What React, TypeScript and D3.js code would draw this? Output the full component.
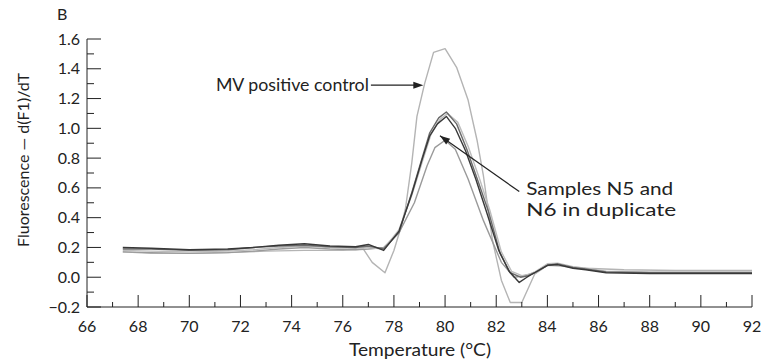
import React from 'react';
import * as d3 from 'd3';

// melting curve derivative
const controlT = [67.4, 68.5, 70, 71.5, 73, 74.5, 76, 76.8, 77.15, 77.65, 78.0, 78.25, 78.45, 78.7, 78.9, 79.2, 79.55, 80.0, 80.45, 80.9, 81.25, 81.5, 81.85, 82.2, 82.55, 83.0, 83.5, 84.0, 84.5, 85.5, 87.0, 89.0, 92.0];
const controlV = [0.17, 0.16, 0.16, 0.165, 0.175, 0.18, 0.18, 0.19, 0.1, 0.03, 0.18, 0.32, 0.46, 0.77, 1.08, 1.3, 1.51, 1.535, 1.41, 1.19, 0.92, 0.68, 0.25, -0.02, -0.17, -0.17, 0.02, 0.08, 0.075, 0.06, 0.05, 0.045, 0.045];

const sampleAT = [67.4, 68.5, 70, 71.5, 72.5, 73.5, 74.5, 75.5, 76.5, 77.0, 77.6, 78.2, 78.7, 79.1, 79.4, 79.7, 80.05, 80.4, 80.8, 81.2, 81.6, 82.1, 82.5, 82.9, 83.2, 83.5, 84.0, 84.4, 85.0, 85.5, 86.3, 88, 90, 92];
const sampleAV = [0.2, 0.195, 0.185, 0.19, 0.2, 0.215, 0.225, 0.21, 0.205, 0.22, 0.18, 0.31, 0.56, 0.79, 0.95, 1.03, 1.08, 1.0, 0.85, 0.66, 0.45, 0.18, 0.04, -0.035, 0.0, 0.03, 0.08, 0.085, 0.06, 0.05, 0.03, 0.025, 0.025, 0.025];

const sampleBT = [67.4, 68.5, 70, 71.5, 72.5, 73.5, 74.5, 75.5, 76.5, 77.0, 77.6, 78.2, 78.7, 79.1, 79.4, 79.75, 80.05, 80.45, 80.85, 81.3, 81.7, 82.15, 82.55, 82.95, 83.25, 83.5, 84.0, 84.4, 85.0, 85.5, 86.3, 88, 90, 92];
const sampleBV = [0.19, 0.19, 0.18, 0.185, 0.2, 0.21, 0.215, 0.205, 0.2, 0.21, 0.19, 0.3, 0.57, 0.8, 0.97, 1.07, 1.11, 1.03, 0.86, 0.64, 0.44, 0.16, 0.03, 0.0, 0.01, 0.03, 0.08, 0.09, 0.065, 0.055, 0.035, 0.03, 0.03, 0.03];

const sampleCT = [67.4, 68.5, 70, 71.5, 72.5, 73.5, 74.5, 75.5, 76.5, 77.0, 77.6, 78.2, 78.7, 79.1, 79.45, 79.8, 80.1, 80.5, 80.9, 81.35, 81.75, 82.2, 82.6, 83.0, 83.3, 83.5, 84.0, 84.4, 85.0, 85.5, 86.3, 88, 90, 92];
const sampleCV = [0.18, 0.175, 0.17, 0.175, 0.185, 0.2, 0.21, 0.2, 0.195, 0.2, 0.19, 0.32, 0.55, 0.77, 0.96, 1.06, 1.1, 1.04, 0.88, 0.66, 0.45, 0.17, 0.04, 0.01, 0.02, 0.035, 0.09, 0.095, 0.07, 0.06, 0.04, 0.035, 0.035, 0.035];

const sampleDT = [67.4, 68.5, 70, 71.5, 72.5, 73.5, 74.5, 75.5, 76.5, 77.0, 77.6, 78.2, 78.8, 79.3, 79.6, 80.0, 80.4, 80.9, 81.5, 82.2, 82.7, 83.1, 83.5, 84.0, 84.4, 85.0, 85.5, 86.3, 88, 90, 92];
const sampleDV = [0.17, 0.165, 0.16, 0.165, 0.175, 0.19, 0.2, 0.19, 0.185, 0.19, 0.2, 0.3, 0.5, 0.75, 0.87, 0.92, 0.86, 0.66, 0.38, 0.1, 0.0, 0.01, 0.03, 0.08, 0.085, 0.065, 0.055, 0.035, 0.03, 0.03, 0.03];

const xTicks = d3.range(66, 93, 1);
const yTicks = d3.range(-2, 17, 1).map(d => d / 10);

const series = [
  { t: controlT, v: controlV, color: '#b4b4b4' },
  { t: sampleDT, v: sampleDV, color: '#9a9a9a' },
  { t: sampleCT, v: sampleCV, color: '#bdbdbd' },
  { t: sampleBT, v: sampleBV, color: '#6a6a6a' },
  { t: sampleAT, v: sampleAV, color: '#383838' },
];

const font = 'Lato, "Open Sans", sans-serif';

const App: React.FC = () => {
  const width = 763;
  const height = 363;

  const x = d3.scaleLinear().domain([66, 92]).range([87, 752]);
  const y = d3.scaleLinear().domain([-0.2, 1.6]).range([307, 39]);

  const line = d3.line<[number, number]>()
    .x(d => x(d[0]))
    .y(d => y(d[1]));

  // annotation anchors in data units
  const ctrlTip: [number, number] = [79.15, 1.29];
  const ctrlTail: [number, number] = [77.1, 1.29];
  const sampTip: [number, number] = [79.8, 0.95];
  const sampTail: [number, number] = [82.9, 0.575];

  const arrowHead = (tail: [number, number], tip: [number, number]) => {
    const x1 = x(tail[0]), y1 = y(tail[1]), x2 = x(tip[0]), y2 = y(tip[1]);
    const a = Math.atan2(y2 - y1, x2 - x1);
    const len = 10, w = 3.5;
    const bx = x2 - len * Math.cos(a), by = y2 - len * Math.sin(a);
    const px = -Math.sin(a) * w, py = Math.cos(a) * w;
    return `M${x2},${y2}L${bx + px},${by + py}L${bx - px},${by - py}Z`;
  };

  return (
    <svg width={width} height={height} style={{ position: 'absolute', left: 0, top: 0, background: '#fff' }}
      fontFamily={font}>
      {/* curves */}
      {series.map((s, i) => (
        <path key={i} d={line(s.t.map((t, j) => [t, s.v[j]] as [number, number])) || ''}
          fill="none" stroke={s.color} strokeWidth={1.4} strokeLinejoin="round" />
      ))}

      {/* y axis */}
      <line x1={x(66)} x2={x(66)} y1={y(1.6)} y2={y(-0.2)} stroke="#222" strokeWidth={1} />
      {yTicks.map(d => {
        const major = Math.round(d * 10) % 2 === 0;
        return (
          <g key={d}>
            <line x1={x(66)} x2={x(66) + (major ? 14 : 7)} y1={y(d)} y2={y(d)} stroke="#222" strokeWidth={1} />
            {major && (
              <text x={x(66) - 7} y={y(d)} dy="0.35em" textAnchor="end" fontSize={16} fill="#222">
                {d < 0 ? '\u2212' + Math.abs(d).toFixed(1) : d.toFixed(1)}
              </text>
            )}
          </g>
        );
      })}

      {/* x axis */}
      <line x1={x(66)} x2={x(92)} y1={y(-0.2)} y2={y(-0.2)} stroke="#222" strokeWidth={1} />
      {xTicks.map(d => {
        const major = d % 2 === 0;
        return (
          <g key={d}>
            <line x1={x(d)} x2={x(d)} y1={y(-0.2)} y2={y(-0.2) - (major ? 12 : 5)} stroke="#222" strokeWidth={1} />
            {major && (
              <text x={x(d)} y={y(-0.2) + 25} textAnchor="middle" fontSize={16} fill="#222">{d}</text>
            )}
          </g>
        );
      })}

      {/* titles */}
      <text x={57} y={20} fontSize={16} fill="#222">B</text>
      <text transform={`translate(29,160) rotate(-90)`} textAnchor="middle" fontSize={16} fill="#222">
        Fluorescence — d(F1)/dT
      </text>
      <text x={420} y={356} textAnchor="middle" fontSize={17} fill="#222"
        textLength={142} lengthAdjust="spacingAndGlyphs">Temperature (°C)</text>

      {/* annotations */}
      <text x={x(ctrlTail[0]) - 2} y={y(ctrlTip[1]) + 6} textAnchor="end" fontSize={17} fill="#222"
        textLength={153} lengthAdjust="spacingAndGlyphs">MV positive control</text>
      <line x1={x(ctrlTail[0])} x2={x(ctrlTip[0]) - 8} y1={y(ctrlTail[1])} y2={y(ctrlTip[1])} stroke="#222" strokeWidth={1.2} />
      <path d={arrowHead(ctrlTail, ctrlTip)} fill="#222" />

      <line x1={x(sampTail[0])} y1={y(sampTail[1])} x2={x(sampTip[0])} y2={y(sampTip[1])} stroke="#222" strokeWidth={1.2} />
      <path d={arrowHead(sampTail, sampTip)} fill="#222" />
      <text x={x(sampTail[0]) + 7} y={y(sampTail[1]) + 3} fontSize={17} fill="#222"
        textLength={147} lengthAdjust="spacingAndGlyphs">Samples N5 and</text>
      <text x={x(sampTail[0]) + 7} y={y(sampTail[1]) + 24} fontSize={17} fill="#222"
        textLength={150} lengthAdjust="spacingAndGlyphs">N6 in duplicate</text>
    </svg>
  );
};

export default App;
